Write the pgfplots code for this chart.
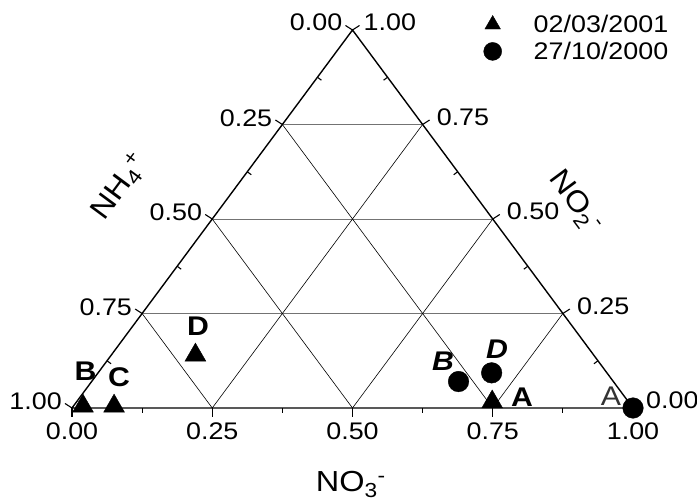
\documentclass[border=0pt]{standalone}
\usepackage{fontspec}
\setmainfont{Liberation Sans}[FakeStretch=1.12]
\usepackage{pgfplots}
\pgfplotsset{compat=1.18}
\newcommand\tkfont{\fontsize{24bp}{28bp}\selectfont}
\newcommand\lbfont{\fontsize{27bp}{32bp}\selectfont}
\newcommand\ttfont{\fontsize{29bp}{34bp}\selectfont}
% tick helper
\newcommand\tk[3]{\draw[line width=1.1pt] (axis cs:#1) -- ++(#2,#3);}
\begin{document}
\begin{tikzpicture}
\begin{axis}[
  x=561bp, y=378bp,
  xmin=0, xmax=1, ymin=0, ymax=1,
  hide axis, clip=false,
  legend style={at={(axis cs:0.7335,1.040)}, anchor=north west, draw=none, fill=none,
    inner sep=0pt, column sep=32bp, row sep=8bp, font=\fontsize{24bp}{28bp}\selectfont,
    nodes={inner sep=0pt}},
  legend cell align=left,
  legend image code/.code={\draw[mark repeat=2,mark phase=2,#1,mark size=9bp] plot coordinates {(0cm,0cm) (0.3cm,0cm) (0.6cm,0cm)};},
]
% grid: horizontal (gray)
\addplot[forget plot, black!55, line width=0.8pt] coordinates {(0.125,0.25) (0.875,0.25)};
\addplot[forget plot, black!55, line width=0.8pt] coordinates {(0.25,0.5) (0.75,0.5)};
\addplot[forget plot, black!55, line width=0.8pt] coordinates {(0.375,0.75) (0.625,0.75)};
% grid: parallel to right side
\addplot[forget plot, black, line width=0.6pt] coordinates {(0.25,0) (0.125,0.25)};
\addplot[forget plot, black, line width=0.6pt] coordinates {(0.5,0) (0.25,0.5)};
\addplot[forget plot, black, line width=0.6pt] coordinates {(0.75,0) (0.375,0.75)};
% grid: parallel to left side
\addplot[forget plot, black, line width=0.6pt] coordinates {(0.25,0) (0.625,0.75)};
\addplot[forget plot, black, line width=0.6pt] coordinates {(0.5,0) (0.75,0.5)};
\addplot[forget plot, black, line width=0.6pt] coordinates {(0.75,0) (0.875,0.25)};
% frame
\addplot[forget plot, black, line width=1.4pt, line join=miter] coordinates {(0,0) (1,0) (0.5,1) (0,0)};

% ticks: bottom
\tk{0,0}{0}{-9bp}\tk{0.25,0}{0}{-9bp}\tk{0.5,0}{0}{-9bp}\tk{0.75,0}{0}{-9bp}\tk{1,0}{0}{-9bp}
\tk{0.125,0}{0}{-5bp}\tk{0.375,0}{0}{-5bp}\tk{0.625,0}{0}{-5bp}\tk{0.875,0}{0}{-5bp}
% ticks: left
\tk{0,0}{-7bp}{4.5bp}\tk{0.125,0.25}{-7bp}{4.5bp}\tk{0.25,0.5}{-7bp}{4.5bp}\tk{0.375,0.75}{-7bp}{4.5bp}\tk{0.5,1}{-7bp}{4.5bp}
\tk{0.0625,0.125}{4bp}{-3bp}\tk{0.1875,0.375}{4bp}{-3bp}\tk{0.3125,0.625}{4bp}{-3bp}\tk{0.4375,0.875}{4bp}{-3bp}
% ticks: right
\tk{1,0}{7bp}{4.5bp}\tk{0.875,0.25}{7bp}{4.5bp}\tk{0.75,0.5}{7bp}{4.5bp}\tk{0.625,0.75}{7bp}{4.5bp}\tk{0.5,1}{7bp}{4.5bp}
\tk{0.9375,0.125}{-4bp}{-3bp}\tk{0.8125,0.375}{-4bp}{-3bp}\tk{0.6875,0.625}{-4bp}{-3bp}\tk{0.5625,0.875}{-4bp}{-3bp}

% tick labels: bottom (NO3-)
\node[anchor=north, inner sep=0pt, font=\tkfont] at ([yshift=-15bp]axis cs:0,0) {0.00};
\node[anchor=north, inner sep=0pt, font=\tkfont] at ([yshift=-15bp]axis cs:0.25,0) {0.25};
\node[anchor=north, inner sep=0pt, font=\tkfont] at ([yshift=-15bp]axis cs:0.5,0) {0.50};
\node[anchor=north, inner sep=0pt, font=\tkfont] at ([yshift=-15bp]axis cs:0.75,0) {0.75};
\node[anchor=north, inner sep=0pt, font=\tkfont] at ([yshift=-15bp]axis cs:1,0) {1.00};
% tick labels: left (NH4+)
\node[anchor=east, inner sep=0pt, font=\tkfont] at ([shift={(-10bp,6.5bp)}]axis cs:0,0) {1.00};
\node[anchor=east, inner sep=0pt, font=\tkfont] at ([shift={(-10bp,6.5bp)}]axis cs:0.125,0.25) {0.75};
\node[anchor=east, inner sep=0pt, font=\tkfont] at ([shift={(-10bp,6.5bp)}]axis cs:0.25,0.5) {0.50};
\node[anchor=east, inner sep=0pt, font=\tkfont] at ([shift={(-10bp,6.5bp)}]axis cs:0.375,0.75) {0.25};
\node[anchor=east, inner sep=0pt, font=\tkfont] at ([shift={(-10bp,8bp)}]axis cs:0.5,1) {0.00};
% tick labels: right (NO2-)
\node[anchor=west, inner sep=0pt, font=\tkfont] at ([shift={(13bp,8bp)}]axis cs:1,0) {0.00};
\node[anchor=west, inner sep=0pt, font=\tkfont] at ([shift={(14bp,7.5bp)}]axis cs:0.875,0.25) {0.25};
\node[anchor=west, inner sep=0pt, font=\tkfont] at ([shift={(14bp,7.5bp)}]axis cs:0.75,0.5) {0.50};
\node[anchor=west, inner sep=0pt, font=\tkfont] at ([shift={(14bp,7.5bp)}]axis cs:0.625,0.75) {0.75};
\node[anchor=west, inner sep=0pt, font=\tkfont] at ([shift={(11bp,8bp)}]axis cs:0.5,1) {1.00};

% axis titles
\node[anchor=base, inner sep=0pt, font=\ttfont] at (axis cs:0.497,-0.222) {NO\textsubscript{3}\textsuperscript{-}};
\node[rotate=53.5, inner sep=0pt, font=\ttfont] at (axis cs:0.0856,0.585) {NH\textsubscript{4}\textsuperscript{+}};
\node[rotate=-53.5, inner sep=0pt, font=\ttfont] at (axis cs:0.8966,0.545) {NO\textsubscript{2}\textsuperscript{-}};

% data: 02/03/2001 (triangles)
\addplot[only marks, mark=triangle*, mark size=12bp, black] coordinates {
  (0.0196,0.005) (0.075,0.005) (0.220,0.140) (0.749,0.016)};
\addlegendentry{02/03/2001}
% data: 27/10/2000 (circles)
\addplot[only marks, mark=*, mark size=10.3bp, black] coordinates {
  (0.689,0.070) (0.748,0.093) (1.0,0.0)};
\addlegendentry{27/10/2000}

% point labels
\node[inner sep=0pt, font=\lbfont\bfseries] at (axis cs:0.0241,0.0979) {B};
\node[inner sep=0pt, font=\lbfont\bfseries] at (axis cs:0.0838,0.0807) {C};
\node[inner sep=0pt, font=\lbfont\bfseries] at (axis cs:0.2246,0.2169) {D};
\node[inner sep=0pt, font=\lbfont\bfseries] at (axis cs:0.8021,0.0291) {A};
\node[inner sep=0pt, font=\lbfont\bfseries\itshape] at (axis cs:0.6613,0.1243) {B};
\node[inner sep=0pt, font=\lbfont\bfseries\itshape] at (axis cs:0.7576,0.1561) {D};
\node[inner sep=0pt, font=\lbfont, text=black!80] at (axis cs:0.9608,0.0317) {A};

\coordinate (bbl) at (axis cs:-0.12834,-0.25397);
\coordinate (btr) at (axis cs:1.11408,1.07937);
\end{axis}
\pgfresetboundingbox
\path[use as bounding box] (bbl) rectangle (btr);
\end{tikzpicture}
\end{document}
